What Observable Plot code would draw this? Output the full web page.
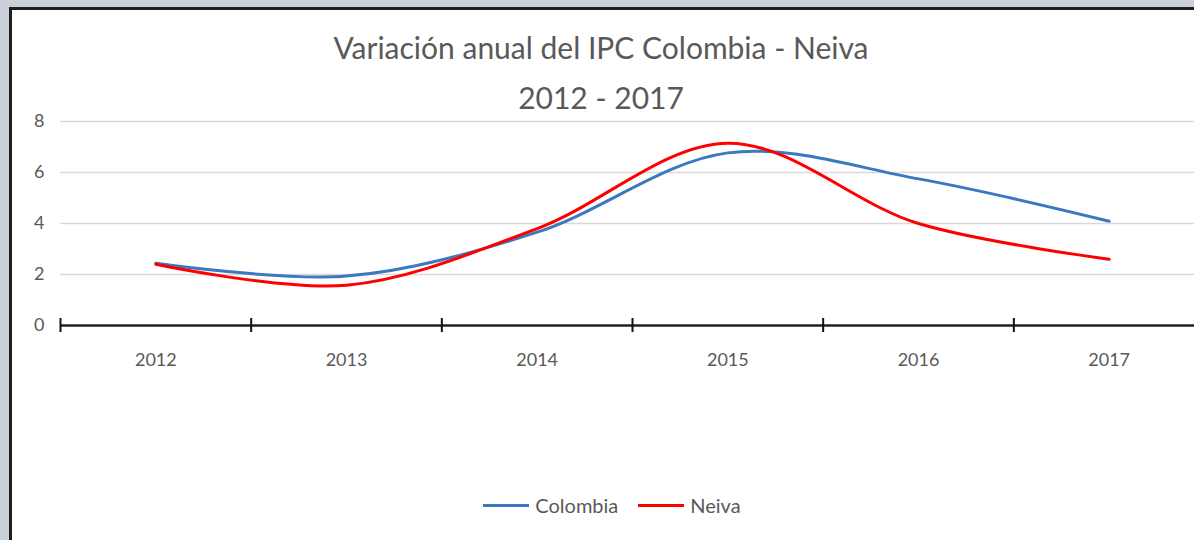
<!DOCTYPE html>
<html>
<head>
<meta charset="utf-8">
<script src="https://cdn.jsdelivr.net/npm/d3@7"></script>
<script src="https://cdn.jsdelivr.net/npm/@observablehq/plot@0.6"></script>
<style>
  html, body { margin: 0; padding: 0; width: 1194px; height: 540px; overflow: hidden; background: #c9d0d8; font-family: Lato, "Open Sans", sans-serif; }
  #panel { position: absolute; left: 9px; top: 7px; width: 1200px; height: 560px; background: #ffffff; border-left: 3px solid #1e1e1e; border-top: 3px solid #1e1e1e; box-sizing: border-box; }
  .title { position: absolute; left: 0; width: 1202px; text-align: center; color: #595959; font-size: 30px; }
  #chart { position: absolute; left: 12px; top: 110px; width: 1192px; }
  #chart svg { max-width: none; }
  #legend { position: absolute; left: 0; top: 493px; width: 1224px; display: flex; justify-content: center; align-items: center; color: #595959; font-size: 20px; }
  .item { display: flex; align-items: center; margin: 0 10px; }
  .sw { width: 46px; height: 3px; margin-right: 6px; }
</style>
</head>
<body>
<div id="panel"></div>
<div class="title" style="top:29px">Variación anual del IPC Colombia - Neiva</div>
<div class="title" style="top:79px">2012 - 2017</div>
<div id="chart"></div>
<div id="legend"></div>
<script>
const years = [2012, 2013, 2014, 2015, 2016, 2017];
const colombia = [2.44, 1.94, 3.66, 6.77, 5.75, 4.09];
const neiva = [2.40, 1.58, 3.80, 7.15, 4.00, 2.60];
const seriesNames = ["Colombia", "Neiva"];
const seriesColors = ["#3a78c0", "#ff0000"];
const yTicks = [0, 2, 4, 6, 8];

const data = [
  ...years.map((y, i) => ({year: y, value: colombia[i], series: "Colombia"})),
  ...years.map((y, i) => ({year: y, value: neiva[i], series: "Neiva"}))
];
const bounds = years.map(y => y - 0.5);

const chart = Plot.plot({
  width: 1192,
  height: 270,
  marginLeft: 48,
  marginRight: 0,
  marginTop: 11,
  marginBottom: 55,
  style: {fontFamily: "Lato, 'Open Sans', sans-serif", fontSize: "18px", color: "#595959", background: "transparent", overflow: "visible", maxWidth: "none"},
  x: {type: "linear", domain: [years[0] - 0.5, years[years.length - 1] + 0.5]},
  y: {domain: [0, 8]},
  color: {domain: seriesNames, range: seriesColors},
  marks: [
    Plot.gridY(yTicks.filter(d => d > 0), {stroke: "#d9d9d9", strokeOpacity: 1, strokeWidth: 1.5}),
    Plot.axisY(yTicks, {tickSize: 0, tickPadding: 16, label: null, fill: "#595959"}),
    Plot.axisX(years, {tickSize: 0, tickPadding: 28, tickFormat: d => String(d), label: null, fill: "#595959"}),
    Plot.lineY(data, {x: "year", y: "value", stroke: "series", strokeWidth: 3, curve: "catmull-rom"}),
    Plot.ruleY([0], {stroke: "#222", strokeWidth: 2.5}),
    Plot.tickX(bounds, {x: d => d, stroke: "#111", strokeWidth: 2, insetTop: 197, insetBottom: -7})
  ]
});
document.getElementById("chart").appendChild(chart);

const legend = document.getElementById("legend");
seriesNames.forEach((name, i) => {
  const item = document.createElement("div");
  item.className = "item";
  item.innerHTML = `<div class="sw" style="background:${seriesColors[i]}"></div><span>${name}</span>`;
  legend.appendChild(item);
});
</script>
</body>
</html>
